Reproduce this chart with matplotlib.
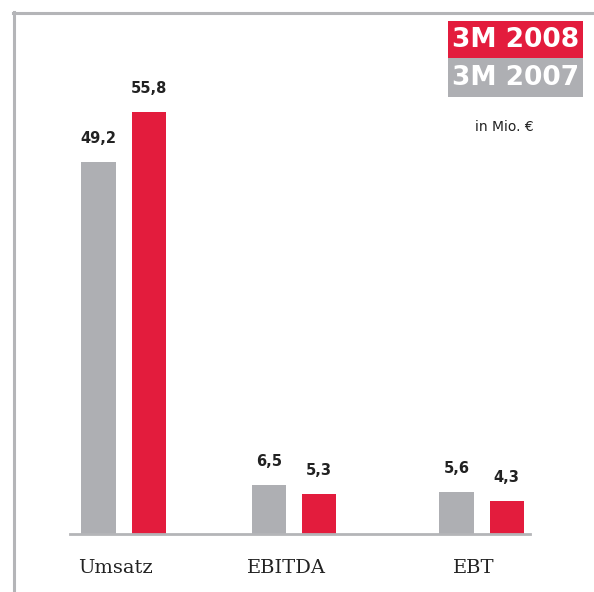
import matplotlib
matplotlib.use("Agg")
import matplotlib.pyplot as plt
from matplotlib.lines import Line2D
from matplotlib.patches import Rectangle

categories = ["Umsatz", "EBITDA", "EBT"]
values_2007 = [49.2, 6.5, 5.6]
values_2008 = [55.8, 5.3, 4.3]
labels_2007 = ["49,2", "6,5", "5,6"]
labels_2008 = ["55,8", "5,3", "4,3"]
legend_labels = ["3M 2008", "3M 2007"]

RED = "#E31C3D"
GRAY = "#AEAFB3"
LINE = "#B4B5B8"

W, H = 594, 592
fig = plt.figure(figsize=(W / 100, H / 100), dpi=100)
fig.patch.set_facecolor("white")

def fx(px):
    return px / W

def fy(py):
    return 1 - py / H

# axes: x from 70 to 530 px, y from 534 (baseline) to 12 px
ax = fig.add_axes([fx(70), fy(534), fx(530) - fx(70), fy(12) - fy(534)])
ax.set_facecolor("none")
positions = [0, 1, 2.1]
ax.set_xlim(-0.314, 2.384)
ax.set_ylim(0, 69.0)
for s in ax.spines.values():
    s.set_visible(False)
ax.set_xticks([])
ax.set_yticks([])

bw = 0.2
off = 0.147
g = ax.bar([p - off for p in positions], values_2007, width=bw, color=GRAY, zorder=2)
r = ax.bar([p + off for p in positions], values_2008, width=bw, color=RED, zorder=2)

for bars, labs in ((g, labels_2007), (r, labels_2008)):
    for b, t in zip(bars, labs):
        ax.annotate(t, (b.get_x() + b.get_width() / 2, b.get_height()),
                    xytext=(0, 16), textcoords="offset pixels",
                    ha="center", va="bottom", fontsize=10.5, fontweight="bold",
                    color="#222222", family="DejaVu Sans")

for p, c in zip(positions, categories):
    ax.text(p - 0.045, -0.065, c, transform=ax.get_xaxis_transform(),
            ha="center", va="center", fontsize=14, family="DejaVu Serif",
            color="#222222")

# baseline
fig.add_artist(Line2D([fx(70), fx(530)], [fy(534), fy(534)], color=LINE, lw=2))
# frame lines
fig.add_artist(Line2D([fx(14), fx(14)], [fy(12), 0], color=LINE, lw=2.2))
fig.add_artist(Line2D([fx(13), 1], [fy(13), fy(13)], color=LINE, lw=2.2))

# legend boxes
fig.add_artist(Rectangle((fx(448), fy(58)), fx(583) - fx(448), fy(21) - fy(58),
                         transform=fig.transFigure, color=RED, lw=0))
fig.add_artist(Rectangle((fx(448), fy(97)), fx(583) - fx(448), fy(58) - fy(97),
                         transform=fig.transFigure, color=GRAY, lw=0))
fig.text(fx(579), fy(40), legend_labels[0], ha="right", va="center",
         fontsize=19, fontweight="bold", color="white", family="DejaVu Sans")
fig.text(fx(579), fy(78), legend_labels[1], ha="right", va="center",
         fontsize=19, fontweight="bold", color="white", family="DejaVu Sans")
fig.text(fx(504), fy(127), "in Mio. €", ha="center", va="center",
         fontsize=10, color="#222222", family="DejaVu Sans")

fig.savefig("out.png", dpi=100, facecolor="white")
